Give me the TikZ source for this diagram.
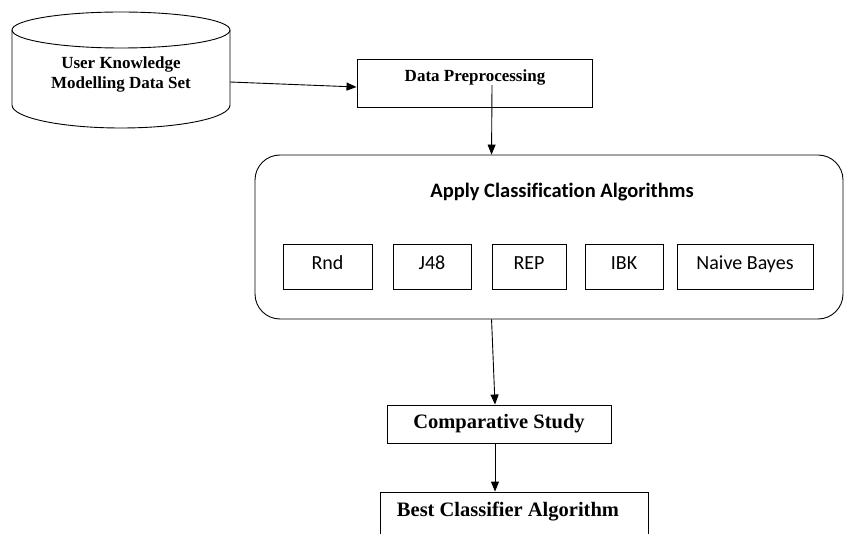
\documentclass[tikz,border=0pt]{standalone}
\usepackage{fontspec}
\setmainfont{Liberation Serif}
\newfontfamily\calfont[Ligatures={NoCommon}]{Carlito}
\usetikzlibrary{arrows.meta,calc}
\begin{document}
\begin{tikzpicture}[x=1pt,y=-1pt,
  line width=0.9pt,
  arr/.style={-{Triangle[length=10pt,width=8pt]}},
  serifbox/.style={draw,rectangle,inner sep=0pt},
  algbox/.style={draw,rectangle,inner sep=0pt,minimum height=45pt,font=\calfont\fontsize{20}{22}\selectfont,text height=13pt,text depth=7pt},
  sertext/.style={font=\bfseries\fontsize{17}{20}\selectfont,align=center,inner sep=0pt}
]
\useasboundingbox (0,0) rectangle (845,534);
\clip (0,0) rectangle (845,534);
% cylinder
\draw (121,30) ellipse [x radius=109, y radius=18];
\draw (12,30) -- (12,105) arc [start angle=180, end angle=360, x radius=109, y radius=-23] -- (230,30);
\node[sertext] (db) at (121,74) {User Knowledge\\Modelling Data Set};
\coordinate (dbout) at (230,82);
% data preprocessing
\node[serifbox,minimum width=235pt,minimum height=48pt] (dp) at (474.5,83) {};
\node[sertext] (dpt) at (475,77) {Data Preprocessing};
\draw[arr] (dbout) -- ($(dp.west)+(0,4)$);
% classification container
\node[draw,rectangle,rounded corners=25pt,minimum width=588pt,minimum height=164pt,inner sep=0pt] (cls) at (549,237) {};
\node[font=\calfont\bfseries\fontsize{20.5}{22}\selectfont,inner sep=0pt] (clst) at (562,192) {Apply Classification Algorithms};
\draw[arr] ($(dp.center)+(17.5,2)$) -- ($(cls.north west)+(237,0)$);
\node[algbox,minimum width=89pt] (rnd) at (327.5,266.5) {Rnd};
\node[algbox,minimum width=78pt] (j48) at (432,266.5) {J48};
\node[algbox,minimum width=74pt] (rep) at (529,266.5) {REP};
\node[algbox,minimum width=78pt] (ibk) at (624,266.5) {IBK};
\node[algbox,minimum width=136pt] (nb) at (745,266.5) {Naive Bayes};
% comparative study
\node[serifbox,minimum width=224pt,minimum height=38pt,font=\bfseries\fontsize{20.5}{22}\selectfont] (cs) at (499,424) {Comparative Study};
\draw[arr] ($(cls.south west)+(237,0)$) -- ($(cs.north)+(-4,0)$);
% best classifier
\node[serifbox,minimum width=268pt,minimum height=70pt] (best) at (514,527) {};
\node[font=\bfseries\fontsize{20.5}{22}\selectfont,inner sep=0pt] (bestt) at (508,512) {Best Classifier Algorithm};
\draw[arr] ($(cs.south)+(-4,0)$) -- ($(best.north)+(-19,0)$);
\end{tikzpicture}
\end{document}
